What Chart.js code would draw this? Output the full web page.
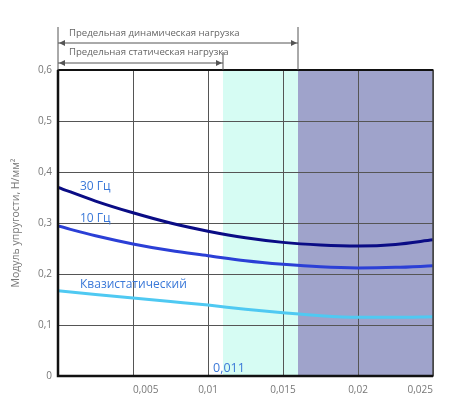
<!DOCTYPE html>
<html>
<head>
    <script src="https://cdn.jsdelivr.net/npm/chart.js"></script>
    <style>
        body {
            margin: 0;
            background: #fff;
            font-family: "Open Sans", sans-serif;
        }
        .wrap {
            width: 470px;
            height: 400px;
        }
    </style>
</head>
<body>
    <div class="wrap">
        <canvas id="chart" width="470" height="400"></canvas>
    </div>

    <script>
        // deformation (x) and modulus values (y)
        let strain = [0, 0.0025, 0.005, 0.0075, 0.01, 0.0125, 0.015, 0.0175, 0.02, 0.0225, 0.025];
        let hz30 = [0.370, 0.343, 0.320, 0.300, 0.284, 0.271, 0.262, 0.257, 0.255, 0.258, 0.267];
        let hz10 = [0.294, 0.275, 0.259, 0.246, 0.236, 0.226, 0.219, 0.214, 0.212, 0.213, 0.216];
        let quasi = [0.167, 0.160, 0.153, 0.146, 0.139, 0.131, 0.124, 0.118, 0.115, 0.115, 0.116];

        let seriesNames = ['30 Гц', '10 Гц', 'Квазистатический'];
        let staticLimit = 0.011;
        let dynamicLimit = 0.016;
        let staticText = 'Предельная статическая нагрузка';
        let dynamicText = 'Предельная динамическая нагрузка';
        let yTitle = 'Модуль упругости, Н/мм²';

        function toPoints(vals) {
            return vals.map((v, i) => ({ x: strain[i], y: v }));
        }

        let fontName = '"Open Sans", sans-serif';

        function arrowHead(ctx, x, y, dir) {
            ctx.beginPath();
            ctx.moveTo(x, y);
            ctx.lineTo(x - dir * 6, y - 3);
            ctx.lineTo(x - dir * 6, y + 3);
            ctx.closePath();
            ctx.fill();
        }

        let extras = {
            id: 'extras',
            beforeDraw(chart) {
                let ctx = chart.ctx;
                let a = chart.chartArea;
                let xs = chart.scales.x;
                let x1 = xs.getPixelForValue(staticLimit);
                let x2 = xs.getPixelForValue(dynamicLimit);
                ctx.save();
                ctx.fillStyle = '#d6fcf3';
                ctx.fillRect(x1, a.top, x2 - x1, a.bottom - a.top);
                ctx.fillStyle = '#9fa3cb';
                ctx.fillRect(x2, a.top, a.right - x2, a.bottom - a.top);
                ctx.restore();
            },
            afterDatasetsDraw(chart) {
                let ctx = chart.ctx;
                let a = chart.chartArea;
                let xs = chart.scales.x;
                let x0 = xs.getPixelForValue(0);
                let x1 = xs.getPixelForValue(staticLimit);
                let x2 = xs.getPixelForValue(dynamicLimit);
                ctx.save();

                // frame
                ctx.strokeStyle = '#444';
                ctx.lineWidth = 1.5;
                ctx.strokeRect(a.left, a.top, a.right - a.left, a.bottom - a.top);
                ctx.strokeStyle = '#111';
                ctx.lineWidth = 2.5;
                ctx.beginPath();
                ctx.moveTo(a.left, a.top);
                ctx.lineTo(a.left, a.bottom);
                ctx.lineTo(a.right, a.bottom);
                ctx.stroke();
                ctx.lineWidth = 2;
                ctx.beginPath();
                ctx.moveTo(a.left, a.top);
                ctx.lineTo(a.right, a.top);
                ctx.stroke();

                // limit markers above the plot
                ctx.strokeStyle = '#555';
                ctx.fillStyle = '#555';
                ctx.lineWidth = 1;
                ctx.beginPath();
                ctx.moveTo(x0, a.top - 43);
                ctx.lineTo(x0, a.top);
                ctx.moveTo(x2, a.top - 43);
                ctx.lineTo(x2, a.top);
                ctx.moveTo(x1, a.top - 18);
                ctx.lineTo(x1, a.top);
                ctx.stroke();

                let yd = a.top - 27;
                let ys = a.top - 7;
                ctx.beginPath();
                ctx.moveTo(x0, yd);
                ctx.lineTo(x2, yd);
                ctx.moveTo(x0, ys);
                ctx.lineTo(x1, ys);
                ctx.stroke();
                arrowHead(ctx, x0 + 1, yd, -1);
                arrowHead(ctx, x2 - 1, yd, 1);
                arrowHead(ctx, x0 + 1, ys, -1);
                arrowHead(ctx, x1 - 1, ys, 1);

                ctx.font = '9.6px ' + fontName;
                ctx.fillStyle = '#666';
                ctx.textBaseline = 'middle';
                ctx.textAlign = 'left';
                ctx.fillText(dynamicText, x0 + 11, a.top - 37);
                ctx.fillText(staticText, x0 + 11, a.top - 18);

                // series labels
                ctx.fillStyle = '#3a78d8';
                ctx.font = '12px ' + fontName;
                let ys2 = chart.scales.y;
                ctx.fillText(seriesNames[0], x0 + 22, ys2.getPixelForValue(hz30[0]) - 1);
                ctx.fillText(seriesNames[1], x0 + 22, ys2.getPixelForValue(hz10[0]) - 7);
                ctx.fillText(seriesNames[2], x0 + 22, ys2.getPixelForValue(quasi[0]) - 6);

                ctx.font = '12.5px ' + fontName;
                ctx.textAlign = 'center';
                ctx.fillText(String(staticLimit).replace('.', ','), x1 + 6, a.bottom - 8);
                ctx.restore();
            }
        };

        let lineOpts = {
            pointRadius: 0,
            borderWidth: 3,
            cubicInterpolationMode: 'monotone',
            fill: false
        };

        new Chart(document.getElementById('chart').getContext('2d'), {
            type: 'scatter',
            data: {
                datasets: [
                    Object.assign({ label: seriesNames[0], data: toPoints(hz30), borderColor: '#0a0c85', showLine: true }, lineOpts),
                    Object.assign({ label: seriesNames[1], data: toPoints(hz10), borderColor: '#2b3fd6', showLine: true }, lineOpts),
                    Object.assign({ label: seriesNames[2], data: toPoints(quasi), borderColor: '#4fc9f2', showLine: true }, lineOpts)
                ]
            },
            options: {
                responsive: false,
                animation: false,
                devicePixelRatio: 1,
                layout: { padding: { top: 70, right: 37, left: 0, bottom: 0 } },
                plugins: {
                    legend: { display: false },
                    tooltip: { enabled: false }
                },
                scales: {
                    x: {
                        type: 'linear',
                        min: 0,
                        max: 0.025,
                        border: { display: false },
                        grid: { color: '#555', lineWidth: 1, drawTicks: false },
                        ticks: {
                            stepSize: 0.005,
                            padding: 8,
                            align: 'inner',
                            color: '#777',
                            font: { family: fontName, size: 10 },
                            callback: v => v === 0 ? null : String(+v.toFixed(3)).replace('.', ',')
                        },
                        afterFit: s => { s.height = 24; }
                    },
                    y: {
                        min: 0,
                        max: 0.6,
                        border: { display: false },
                        grid: { color: '#555', lineWidth: 1, drawTicks: false },
                        ticks: {
                            stepSize: 0.1,
                            padding: 6,
                            color: '#777',
                            font: { family: fontName, size: 10 },
                            callback: v => String(+v.toFixed(1)).replace('.', ',')
                        },
                        title: {
                            display: true,
                            text: yTitle,
                            color: '#777',
                            font: { family: fontName, size: 10.5 },
                            padding: { top: 10, bottom: 0 }
                        },
                        afterFit: s => { s.width = 58; }
                    }
                }
            },
            plugins: [extras]
        });
    </script>
</body>
</html>
